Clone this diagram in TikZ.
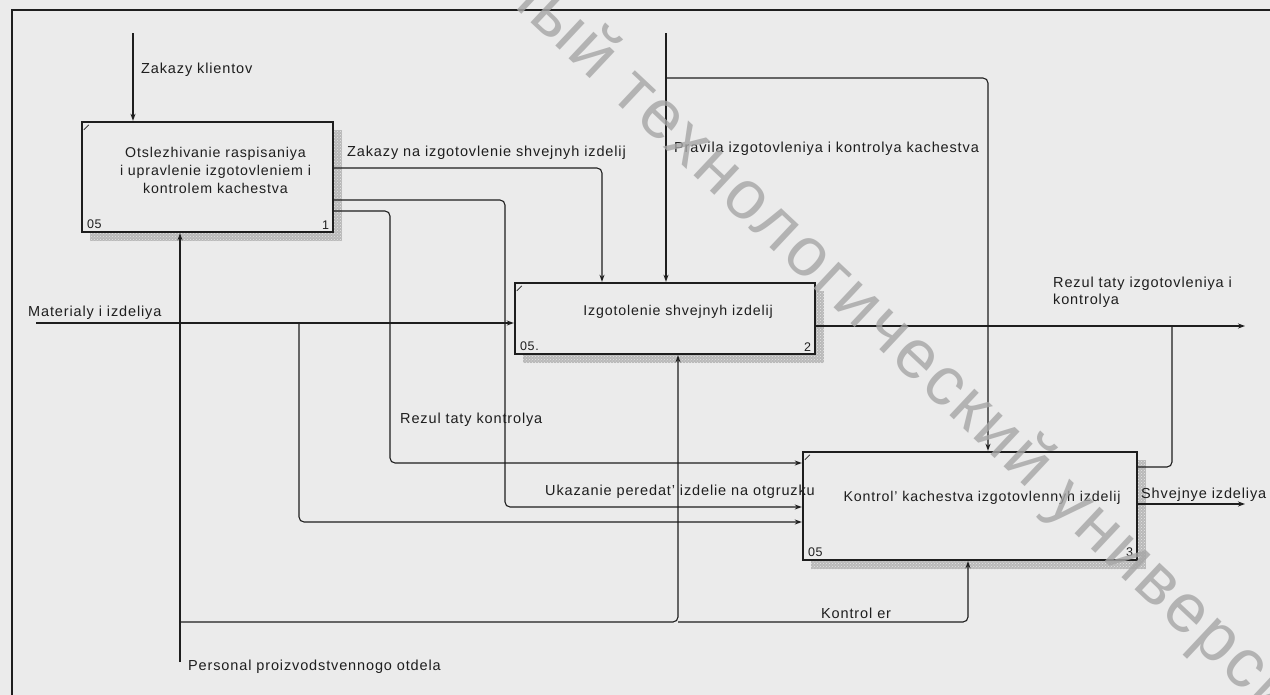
\documentclass[tikz,border=0pt]{standalone}
\usepackage{fontspec}
\setmainfont{Liberation Sans}[LetterSpace=6]
\newfontfamily\wmfont{Liberation Sans}[LetterSpace=4]
\usetikzlibrary{arrows.meta,patterns,calc}
\definecolor{bg}{HTML}{EBEBEB}
\definecolor{ink}{HTML}{1E1E1E}
\begin{document}
\begin{tikzpicture}[x=1pt,y=-1pt,
  box/.style={draw=ink,line width=2.4pt,fill=bg,inner sep=0pt},
  boxtext/.style={inner sep=0pt,align=center,text=ink,font=\fontsize{14.2}{18}\selectfont},
  lbl/.style={inner sep=0pt,anchor=west,font=\fontsize{14.5}{17}\selectfont,text=ink},
  num/.style={inner sep=0pt,font=\fontsize{12.5}{14}\selectfont,text=ink},
  con/.style={draw=ink,line width=1.1pt,rounded corners=5pt},
  arr/.style={con,-{Stealth[length=7pt,width=5pt]}},
  shade/.style={fill=gray!55}
]
\useasboundingbox (0,0) rectangle (1270,694);
\fill[bg] (-3,-3) rectangle (1273,697);
% frame
\draw[ink,line width=1.6pt] (12,697) -- (12,10) -- (1273,10);
% shadows
\foreach \r in {{(90,130) rectangle (342,241)},{(523,291) rectangle (824,363)},{(811,460) rectangle (1146,569)}}{
  \fill[shade] \r;
  \fill[pattern=crosshatch dots,pattern color=gray!20] \r;
}
% boxes
\node[box,minimum width=251pt,minimum height=110pt] (b1) at (207.5,177) {};
\node[box,minimum width=300pt,minimum height=71pt] (b2) at (665,318.5) {};
\node[box,minimum width=334pt,minimum height=108pt] (b3) at (970,506) {};
\node[boxtext] (t1) at ($(b1.center)+(8,-7)$)
  {Otslezhivanie raspisaniya\\i upravlenie izgotovleniem i\\kontrolem kachestva};
\node[boxtext] (t2) at ($(b2.center)+(13,-7)$) {Izgotolenie shvejnyh izdelij};
\node[boxtext] (t3) at ($(b3.center)+(12,-8)$) {Kontrol' kachestva izgotovlennyh izdelij};
\foreach \b/\n/\m in {b1/05/1,b2/05./2,b3/05/3}{
  \node[num,anchor=south west] at ($(\b.south west)+(6,-4)$) {\n};
  \node[num,anchor=south east] at ($(\b.south east)+(-5,-4)$) {\m};
  \draw[ink,line width=0.8pt] ($(\b.north west)+(3,9)$) -- ($(\b.north west)+(8,4)$);
}
% free ends
\coordinate (zk) at (133,33);
\coordinate (pr) at (666,33);
\coordinate (mat) at (36,323);
\coordinate (pe) at (180,662);
\coordinate (o1) at (1245,326);
\coordinate (o2) at (1245,504);
% box1 outputs
\draw[arr] (zk) -- (b1.north -| zk);
\draw[arr] (b1.east |- 0,168) -- (602,168) -- (b2.north -| 602,0);
\draw[arr] (b1.east |- 0,200) -- (505,200) -- (505,507) -- (b3.west |- 0,507);
\draw[arr] (b1.east |- 0,211) -- (390,211) -- (390,463) -- (b3.west |- 0,463);
% materials
\draw[arr] (mat) -- (b2.west |- mat);
\draw[arr] (299,323) -- (299,522) -- (b3.west |- 0,522);
% controls
\draw[arr] (pr) -- (b2.north -| pr);
\draw[arr] (666,78) -- (988,78) -- (b3.north -| 988,0);
% outputs
\draw[arr] (b2.east |- o1) -- (o1);
\draw[con] (b3.east |- 0,467) -- (1172,467) -- (1172,326);
\draw[arr] (b3.east |- o2) -- (o2);
% mechanisms
\draw[arr] (pe) -- (b1.south -| pe);
\draw[arr] (180,622) -- (678,622) -- (b2.south -| 678,0);
\draw[arr] (678,622) -- (968,622) -- (b3.south -| 968,0);
% labels
\node[lbl] (lzk) at (141,70) {Zakazy klientov};
\node[lbl] (lzn) at (347,153) {Zakazy na izgotovlenie shvejnyh izdelij};
\node[lbl] (lpr) at (674,149) {Pravila izgotovleniya i kontrolya kachestva};
\node[lbl] (lmat) at (28,313) {Materialy i izdeliya};
\node[lbl] (lrk) at (400,420) {Rezul taty kontrolya};
\node[lbl] (luk) at (545,492) {Ukazanie peredat' izdelie na otgruzku};
\node[lbl,anchor=north west,align=left] (lri) at (1053,277) {Rezul taty izgotovleniya i\\kontrolya};
\node[lbl] (lsh) at (1141,495) {Shvejnye izdeliya};
\node[lbl] (lko) at (821,613) {Kontrol er};
\node[lbl] (lpe) at (188,667) {Personal proizvodstvennogo otdela};
% watermark
\begin{scope}
\clip (0,0) rectangle (1270,694);
\node[inner sep=0pt,rotate=-43.2,text=gray!70,opacity=0.8,
  font=\wmfont\fontsize{69}{69}\selectfont] (wm) at (899,343)
  {ный технологический универси\rlap{тет}};
\end{scope}
\end{tikzpicture}
\end{document}
